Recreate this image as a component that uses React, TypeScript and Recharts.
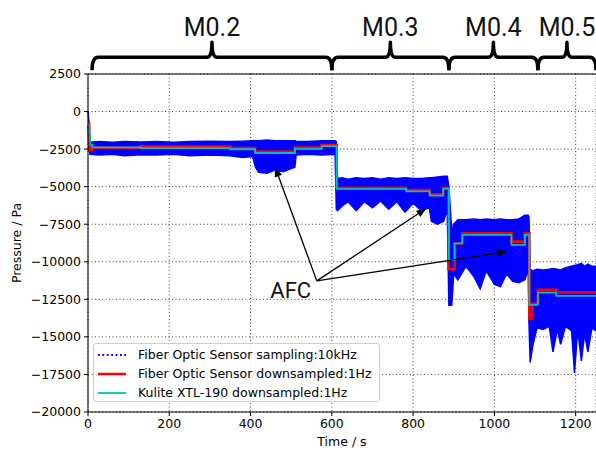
import React from "react";
import {
  ComposedChart,
  Area,
  Line,
  XAxis,
  YAxis,
  CartesianGrid,
  ReferenceLine,
  ReferenceDot,
} from "recharts";

// Fiber optic 10kHz samples, shown as the envelope of the noisy cloud
const fosTime = [
  0, 2, 5, 30, 60, 90, 130, 170, 210, 250, 300, 349, 380, 405, 412, 420, 440, 460, 480, 500,
  509, 512, 540, 575, 608, 611, 614, 625, 640, 660, 680, 700, 720, 740, 760, 780, 800, 820,
  840, 845, 860, 875, 884, 888, 895, 900, 910, 930, 950, 965, 980, 1000, 1015, 1030, 1045,
  1060, 1075, 1083, 1085, 1088, 1095, 1105, 1120, 1135, 1144, 1155, 1163, 1175, 1190, 1197,
  1205, 1214, 1222, 1230, 1240, 1250,
];
const fosLow = [
  -900, -2300, -2850, -2900, -2850, -2950, -2880, -2900, -2850, -2950, -2900, -2950, -3050,
  -3000, -3700, -4050, -4100, -3900, -4000, -3800, -3700, -2900, -2850, -2900, -2850, -6500,
  -6600, -6300, -6000, -6600, -6000, -6400, -5950, -6500, -6000, -6700, -6100, -6600, -6400,
  -7300, -7500, -7300, -6500, -12900, -12900, -10800, -11200, -10300, -11000, -11800, -10600,
  -11500, -11650, -10800, -11300, -11400, -11200, -10500, -14000, -16700, -15500, -14400,
  -14500, -14300, -16000, -14500, -15500, -14300, -14600, -17400, -14500, -16600, -14800,
  -16000, -14400, -14600,
];
const fosHigh = [
  0, -600, -2050, -2000, -2050, -2000, -2030, -1990, -2050, -2000, -1980, -2000, -1980, -1950,
  -1950, -1950, -1900, -1950, -1950, -1950, -1950, -1980, -2000, -1950, -1950, -2000, -4450,
  -4400, -4500, -4400, -4450, -4400, -4500, -4400, -4450, -4400, -4450, -4450, -4400, -4400,
  -4350, -4300, -4300, -5000, -8000, -7500, -7200, -7200, -7150, -7200, -7150, -7200, -7150,
  -7200, -7200, -7150, -6900, -6900, -7000, -10500, -10600, -10500, -10550, -10500, -10450,
  -10500, -10550, -10400, -10300, -10250, -10200, -10100, -10300, -10150, -10300, -10300,
];

// Fiber optic downsampled to 1Hz
const fosDownTime = [0, 3, 10, 130, 350, 411, 509, 575, 612, 783, 841, 874, 887, 902, 921, 1042, 1075, 1086, 1093, 1107, 1152, 1250];
const fosDownValue = [-800, -2550, -2420, -2330, -2430, -2670, -2400, -2230, -5070, -5220, -5500, -5070, -10500, -8780, -8100, -8660, -8100, -13800, -12800, -11870, -12050, -12050];

// Kulite XTL-190 downsampled to 1Hz
const kuliteTime = [0, 2, 5, 10, 130, 350, 411, 509, 575, 612, 783, 841, 874, 888, 902, 921, 1042, 1075, 1086, 1107, 1152, 1250];
const kuliteValue = [-800, -1400, -2200, -2380, -2440, -2510, -2760, -2490, -2300, -5150, -5310, -5600, -5150, -9880, -8770, -8210, -8880, -8210, -12870, -12050, -12270, -12270];

const xTicks = [0, 200, 400, 600, 800, 1000, 1200];
const yTicks = [-20000, -17500, -15000, -12500, -10000, -7500, -5000, -2500, 0, 2500];

// Mach number phases shown as braces above the plot
const phaseLabels = ["M0.2", "M0.3", "M0.4", "M0.5"];
const phaseStart = [10, 600, 888, 1107];
const phaseEnd = [600, 888, 1107, 1250];
const braceLevel = 3620;

// AFC annotation
const afcLabelAt = { t: 499, p: -11940 };
const afcFrom = { t: 563, p: -11270 };
const afcTargetTime = [460, 833, 1031];
const afcTargetValue = [-3670, -6440, -9320];

const fosData = fosTime.map((t, i) => ({ t, band: [fosLow[i], fosHigh[i]] }));
const fosDownData = fosDownTime.map((t, i) => ({ t, v: fosDownValue[i] }));
const kuliteData = kuliteTime.map((t, i) => ({ t, v: kuliteValue[i] }));

const minus = (v: number) => String(v).replace("-", "\u2212");

const braceShape = (label: string) => (props: any) => {
  const { x1, x2, y1 } = props;
  const mid = (x1 + x2) / 2;
  const d =
    `M${x1},${y1 + 13} Q${x1},${y1} ${x1 + 6},${y1} L${mid - 5},${y1} ` +
    `Q${mid},${y1} ${mid},${y1 - 15} Q${mid},${y1} ${mid + 5},${y1} ` +
    `L${x2 - 6},${y1} Q${x2},${y1} ${x2},${y1 + 13}`;
  return (
    <g>
      <path d={d} fill="none" stroke="#000" strokeWidth={3.5} strokeLinejoin="round" />
      <text x={mid} y={y1 - 21} textAnchor="middle" fontSize={25} fontFamily="Roboto" fill="#111">
        {label}
      </text>
    </g>
  );
};

const arrowShape = (props: any) => {
  const { x1, y1, x2, y2 } = props;
  const dx = x2 - x1;
  const dy = y2 - y1;
  const len = Math.hypot(dx, dy) || 1;
  const ux = dx / len;
  const uy = dy / len;
  const bx = x2 - ux * 10;
  const by = y2 - uy * 10;
  return (
    <g>
      <line x1={x1} y1={y1} x2={bx} y2={by} stroke="#000" strokeWidth={1.3} />
      <polygon
        points={`${x2},${y2} ${bx - uy * 3.8},${by + ux * 3.8} ${bx + uy * 3.8},${by - ux * 3.8}`}
        fill="#000"
      />
    </g>
  );
};

const legendItems = [
  { label: "Fiber Optic Sensor sampling:10kHz", color: "#0000ff", dotted: true, w: 1.8 },
  { label: "Fiber Optic Sensor downsampled:1Hz", color: "#ff0000", dotted: false, w: 2.5 },
  { label: "Kulite XTL-190 downsampled:1Hz", color: "#00bfbf", dotted: false, w: 1.8 },
];

export default function App() {
  return (
    <div
      style={{
        position: "absolute",
        left: 0,
        top: 0,
        width: 596,
        height: 450,
        fontFamily: "DejaVu Sans",
        background: "#fff",
        overflow: "hidden",
      }}
    >
      <ComposedChart width={596} height={450} margin={{ top: 74, right: 0, bottom: 0, left: 0 }}>
        <CartesianGrid stroke="#000" strokeOpacity={0.75} strokeDasharray="1 2.5" />
        <XAxis
          dataKey="t"
          type="number"
          domain={[0, 1250]}
          ticks={xTicks}
          height={38}
          stroke="#000"
          tickSize={4}
          tickMargin={3}
          tick={{ fill: "#000", fontSize: 12.5 }}
          tickFormatter={minus}
          label={{ value: "Time / s", position: "insideBottom", offset: 4, fill: "#000", fontSize: 12.5 }}
        />
        <YAxis
          type="number"
          domain={[-20000, 2500]}
          ticks={yTicks}
          width={88}
          stroke="#000"
          tickSize={4}
          tickMargin={3}
          tick={{ fill: "#000", fontSize: 12.5 }}
          tickFormatter={minus}
        />
        <Area
          data={fosData}
          dataKey="band"
          type="linear"
          stroke="#0000ff"
          strokeWidth={1.5}
          fill="#0000ff"
          fillOpacity={1}
          isAnimationActive={false}
        />
        <Line
          data={fosDownData}
          dataKey="v"
          type="stepAfter"
          stroke="#ff0000"
          strokeWidth={2.6}
          dot={false}
          isAnimationActive={false}
        />
        <Line
          data={kuliteData}
          dataKey="v"
          type="stepAfter"
          stroke="#00bfbf"
          strokeWidth={1.8}
          dot={false}
          isAnimationActive={false}
        />
        <ReferenceLine y={2500} stroke="#000" strokeWidth={1} />
        {afcTargetTime.map((t, i) => (
          <ReferenceLine
            key={"afc" + i}
            segment={[
              { x: afcFrom.t, y: afcFrom.p },
              { x: t, y: afcTargetValue[i] },
            ]}
            shape={arrowShape}
            ifOverflow="visible"
          />
        ))}
        <ReferenceDot
          x={afcLabelAt.t}
          y={afcLabelAt.p}
          ifOverflow="visible"
          shape={(p: any) => (
            <text x={p.cx} y={p.cy + 7.5} textAnchor="middle" fontSize={22} fontFamily="Roboto" fill="#111">
              AFC
            </text>
          )}
        />
        {phaseLabels.map((label, i) => (
          <ReferenceLine
            key={label}
            segment={[
              { x: phaseStart[i], y: braceLevel },
              { x: phaseEnd[i], y: braceLevel },
            ]}
            shape={braceShape(label)}
            ifOverflow="visible"
          />
        ))}
      </ComposedChart>

      <div
        style={{
          position: "absolute",
          left: 16,
          top: 243,
          transform: "translate(-50%, -50%) rotate(-90deg)",
          fontSize: 12.5,
          whiteSpace: "nowrap",
          color: "#000",
        }}
      >
        Pressure / Pa
      </div>

      <div
        style={{
          position: "absolute",
          left: 93,
          top: 343,
          width: 287,
          height: 59,
          boxSizing: "border-box",
          border: "1px solid #cccccc",
          borderRadius: 3,
          background: "rgba(255,255,255,0.85)",
          fontSize: 12.5,
          paddingTop: 1,
        }}
      >
        {legendItems.map((it) => (
          <div key={it.label} style={{ display: "flex", alignItems: "center", height: 19 }}>
            <svg width={44} height={10} style={{ flex: "none" }}>
              <line
                x1={4}
                y1={5}
                x2={32}
                y2={5}
                stroke={it.color}
                strokeWidth={it.w}
                strokeDasharray={it.dotted ? "1.8 2.6" : undefined}
              />
            </svg>
            <span style={{ whiteSpace: "nowrap" }}>{it.label}</span>
          </div>
        ))}
      </div>
    </div>
  );
}
